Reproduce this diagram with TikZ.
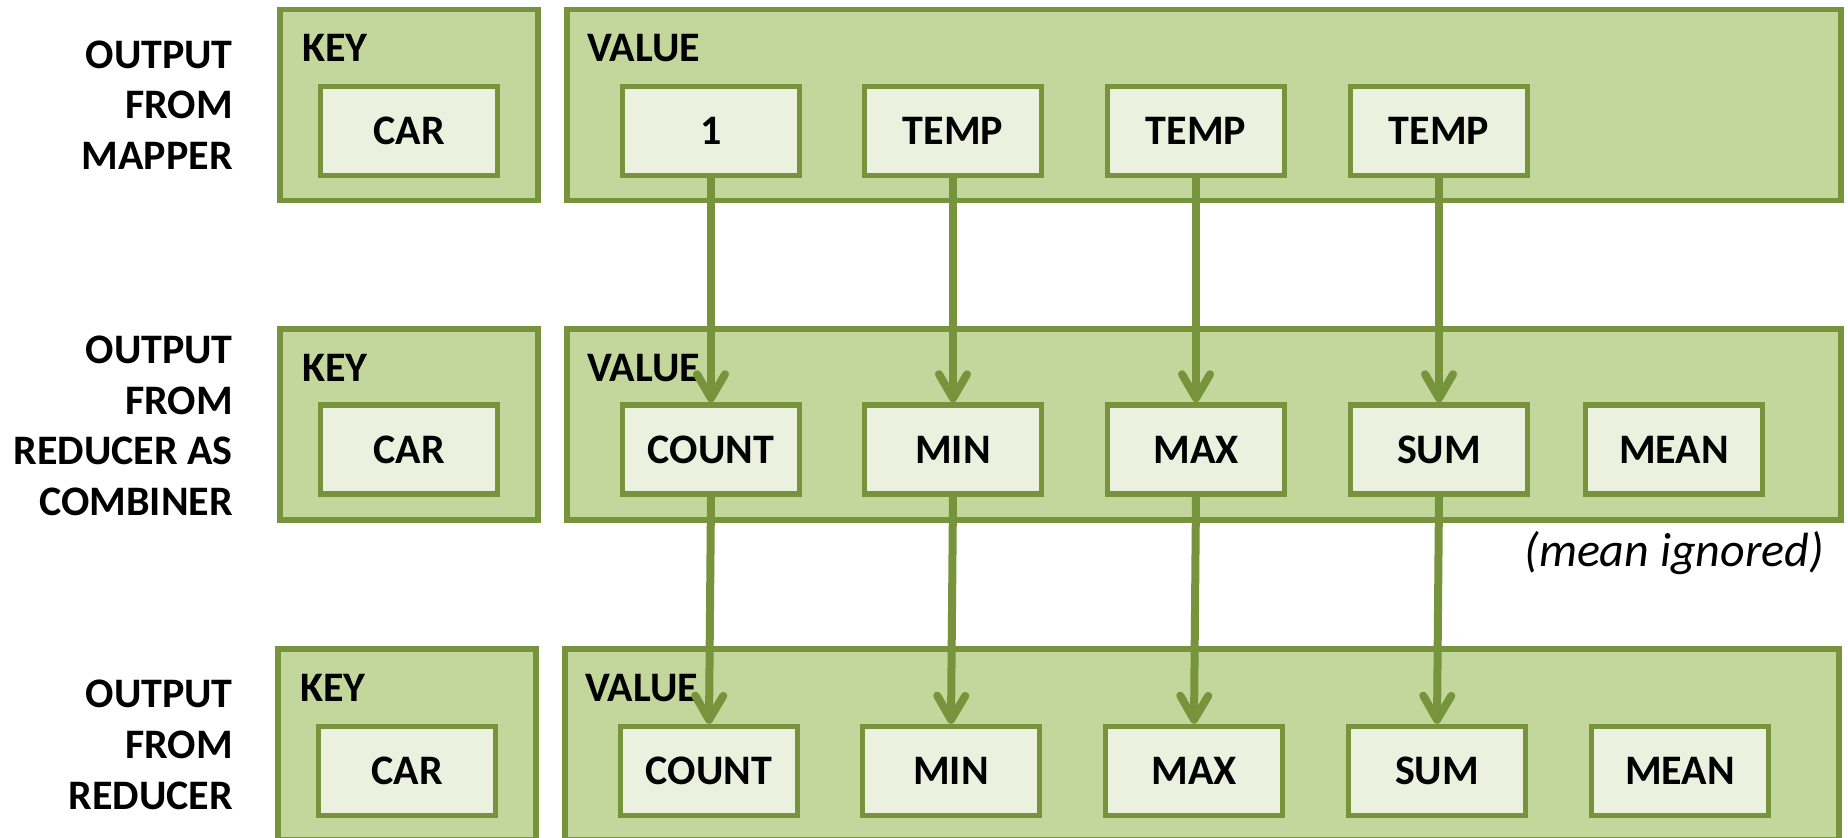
\documentclass[tikz,border=0pt]{standalone}
\usepackage{fontspec}
\setmainfont{Carlito}
\usetikzlibrary{arrows.meta}
\definecolor{panelfill}{HTML}{C3D69B}
\definecolor{oliveline}{HTML}{77933C}
\definecolor{itemfill}{HTML}{EBF1DE}

\begin{document}
\begin{tikzpicture}[x=1pt,y=-1pt,
  panel/.style={draw=oliveline, fill=panelfill, line width=5.5pt,
    minimum height=191pt, inner sep=0pt},
  keypanel/.style={panel, minimum width=258pt},
  valpanel/.style={panel, minimum width=1274pt},
  item/.style={draw=oliveline, fill=itemfill, line width=5.5pt,
    minimum width=177pt, minimum height=89pt, inner sep=0pt,
    font=\fontsize{42}{50}\selectfont\bfseries},
  title/.style={anchor=base west, inner sep=0pt,
    font=\fontsize{42}{50}\selectfont\bfseries},
  rowlabel/.style={anchor=east, align=right, inner sep=0pt,
    font=\fontsize{42}{50.7}\selectfont\bfseries},
  flow/.style={draw=oliveline, line width=8pt,
    -{Straight Barb[length=24pt, width=28pt, line cap=round, line join=round]}}]

\useasboundingbox (0,0) rectangle (1848,838);
\clip (0,0) rectangle (1848,838);

% --- mapper output ---
\node[rowlabel] (lab1) at (233,105) {OUTPUT\\FROM\\MAPPER};
\node[keypanel] (key1) at (409,105) {};
\node[valpanel] (val1) at (1204,105) {};
\node[title] (kt1) at (302,61) {KEY};
\node[title] (vt1) at (587,61) {VALUE};
\node[item] (car1) at (409,131) {CAR};
\node[item] (m1) at (711,131) {1};
\node[item] (m2) at (953,131) {TEMP};
\node[item] (m3) at (1196,131) {TEMP};
\node[item] (m4) at (1439,131) {TEMP};

% --- reducer used as combiner ---
\node[rowlabel] (lab2) at (233,426) {OUTPUT\\FROM\\REDUCER AS\\COMBINER};
\node[keypanel] (key2) at (409,424.5) {};
\node[valpanel] (val2) at (1204,424.5) {};
\node[title] (kt2) at (302,381) {KEY};
\node[title] (vt2) at (587,381) {VALUE};
\node[item] (car2) at (409,449.5) {CAR};
\node[item] (c1) at (711,449.5) {COUNT};
\node[item] (c2) at (953,449.5) {MIN};
\node[item] (c3) at (1196,449.5) {MAX};
\node[item] (c4) at (1439,449.5) {SUM};
\node[item] (c5) at (1674,449.5) {MEAN};
\node[anchor=east, inner sep=0pt, font=\fontsize{48}{56}\selectfont\itshape]
  (note) at (1824,553) {(mean ignored)};

% --- reducer output ---
\node[rowlabel] (lab3) at (233,745) {OUTPUT\\FROM\\REDUCER};
\node[keypanel] (key3) at (407,744.5) {};
\node[valpanel] (val3) at (1202,744.5) {};
\node[title] (kt3) at (300,701) {KEY};
\node[title] (vt3) at (585,701) {VALUE};
\node[item] (car3) at (407,771) {CAR};
\node[item] (r1) at (709,771) {COUNT};
\node[item] (r2) at (951,771) {MIN};
\node[item] (r3) at (1194,771) {MAX};
\node[item] (r4) at (1437,771) {SUM};
\node[item] (r5) at (1680,771) {MEAN};

% --- data flow ---
\draw[flow] (m1.south) -- (c1.north);
\draw[flow] (m2.south) -- (c2.north);
\draw[flow] (m3.south) -- (c3.north);
\draw[flow] (m4.south) -- (c4.north);
\draw[flow] (c1.south) -- (r1.north);
\draw[flow] (c2.south) -- (r2.north);
\draw[flow] (c3.south) -- (r3.north);
\draw[flow] (c4.south) -- (r4.north);
\end{tikzpicture}
\end{document}
